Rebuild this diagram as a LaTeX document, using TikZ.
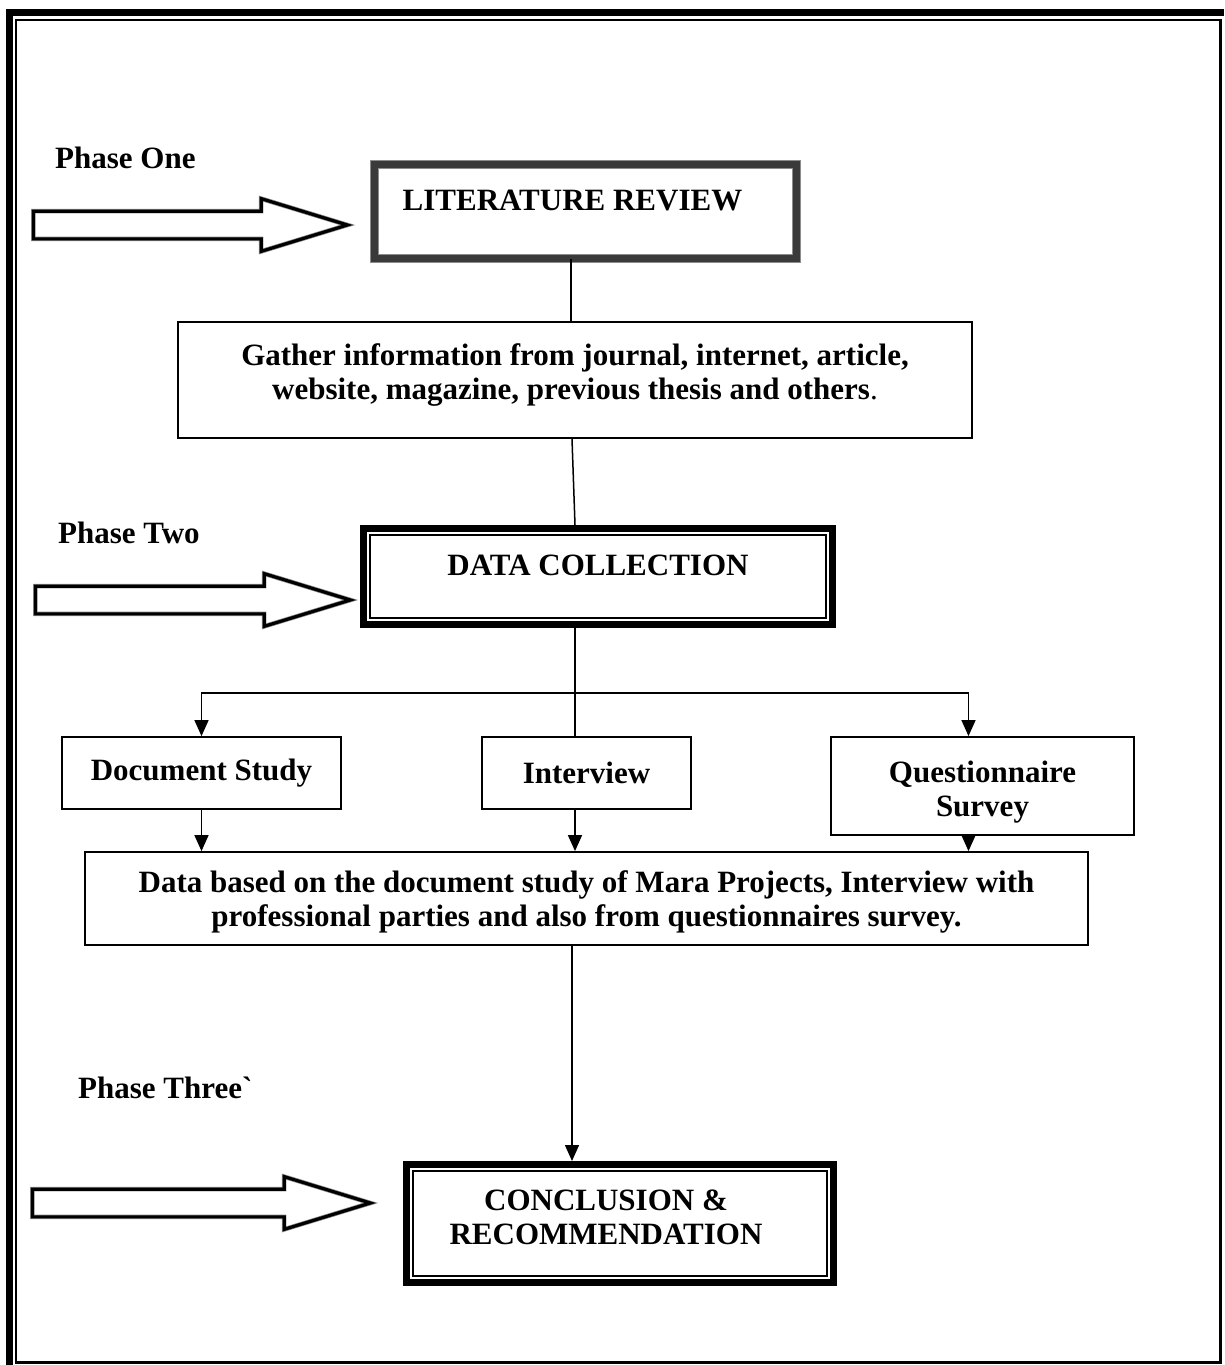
\documentclass[tikz,border=0pt]{standalone}
\usepackage{fontspec}
\setmainfont{Liberation Serif}
\usepackage{tikz}
\usetikzlibrary{arrows.meta,shapes.arrows}
\definecolor{rimgray}{HTML}{8C8C8C}
\definecolor{bandgray}{HTML}{3A3A3A}

\begin{document}
\begin{tikzpicture}[x=1pt,y=-1pt, every node/.style={font=\fontsize{31}{34}\selectfont\bfseries,align=center,inner sep=0pt}, box/.style={draw,line width=1.8pt}, phase/.style={anchor=west}, blockarr/.style={single arrow,draw=rimgray,double=black,double distance=3.2pt,line width=0.7pt,text height=27pt,text depth=0pt,single arrow head extend=12.5pt,single arrow tip angle=34,anchor=tail}, arr/.style={-{Triangle[length=16pt,width=14pt]},line width=1.5pt}, ln/.style={line width=1.5pt}]
\useasboundingbox (0,0) rectangle (1224,1365);
% page frame
\draw[line width=7.5pt] (9.5,1365) -- (9.5,12.5) -- (1224,12.5); \draw[line width=2.5pt] (16,20) rectangle (1220.5,1362.5);
% phases
\node (phaseone) [phase] at (55,158) {Phase One}; \node (arrone) [blockarr,minimum height=314pt] at (33,225) {};
\node (phasetwo) [phase] at (58,533) {Phase Two}; \node (arrtwo) [blockarr,minimum height=315pt] at (35,600) {};
\node (phasethree) [phase] at (78,1088) {Phase Three\textasciigrave}; \node (arrthree) [blockarr,minimum height=338pt] at (32,1203) {};
% main boxes
\node (litrev) [draw=rimgray,double=bandgray,double distance=7pt,line width=1pt,minimum width=422pt,minimum height=94pt,text depth=22pt] at (585.5,211.5) {LITERATURE REVIEW\hspace*{26pt}};
\node (gather) [box,minimum width=794pt,minimum height=116pt,text depth=17.5pt] at (575,380) {Gather information from journal, internet, article,\\website, magazine, previous thesis and others{\mdseries.}};
\node (datacoll) [draw,line width=7pt,minimum width=469pt,minimum height=96pt,text depth=22pt] at (598,576.5) {DATA COLLECTION};
\node (docstudy) [box,minimum width=279pt,minimum height=72pt] at (201.5,773) {Document Study}; \node (interview) [box,minimum width=209pt,minimum height=72pt] at (586.5,773) {Interview}; \node (quest) [box,minimum width=303pt,minimum height=98pt,text height=67pt] at (982.5,786) {Questionnaire\\Survey};
\node (databox) [box,minimum width=1003pt,minimum height=93pt,text height=63pt] at (586.5,898.5) {Data based on the document study of Mara Projects, Interview with\\professional parties and also from questionnaires survey.};
\node (concl) [draw,line width=7pt,minimum width=427pt,minimum height=118pt,text depth=13pt] at (620,1223.5) {CONCLUSION \&\hspace*{28pt}\\RECOMMENDATION\hspace*{28pt}};
\draw[line width=1.3pt] ([shift={(10pt,10pt)}]datacoll.south west) rectangle ([shift={(-10pt,-10pt)}]datacoll.north east); \draw[line width=1.3pt] ([shift={(10pt,10pt)}]concl.south west) rectangle ([shift={(-10pt,-10pt)}]concl.north east);
% connectors
\coordinate (split) at (575,693);
\draw[ln] ([xshift=-4pt]gather.north) -- ([xshift=-4pt]gather.north |- litrev.south); \draw[ln] ([xshift=-3pt]gather.south) -- (gather.south |- datacoll.north);
\draw[ln] (datacoll.south -| split) -- (interview.north -| split); \draw[arr] (split) -| (docstudy.north); \draw[arr] (split) -| ([xshift=-14pt]quest.north);
\draw[arr] (docstudy.south) -- (docstudy.south |- databox.north); \draw[arr] ([xshift=-11.5pt]interview.south) -- ([xshift=-11.5pt]interview.south |- databox.north); \draw[arr] ([xshift=-14pt]quest.south) -- ([xshift=-14pt]quest.south |- databox.north);
\draw[arr] ([xshift=-14.5pt]databox.south) -- ([xshift=-14.5pt]databox.south |- concl.north);
\end{tikzpicture}
\end{document}
